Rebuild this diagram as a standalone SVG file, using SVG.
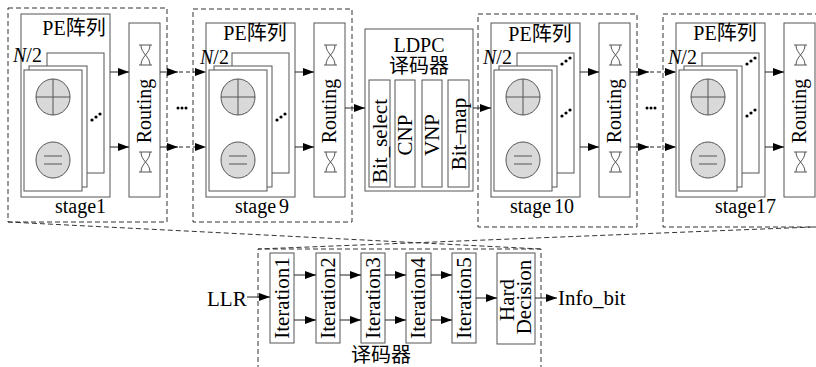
<svg xmlns="http://www.w3.org/2000/svg" width="816" height="367" viewBox="0 0 816 367">
<style>
.t{font-family:"Liberation Serif","Noto Sans CJK SC",serif;font-size:20px;fill:#000}
.tb{font-family:"Liberation Serif","Noto Sans CJK SC",serif;font-size:21px;fill:#000}
.dash{fill:none;stroke:#333;stroke-width:1;stroke-dasharray:5,3}
.box{fill:#fff;stroke:#555;stroke-width:1}
.card{fill:#fff;stroke:#555;stroke-width:1}
.pe{fill:#d9d9d9;stroke:#555;stroke-width:1}
.ln{fill:none;stroke:#555;stroke-width:1}
.sym{fill:none;stroke:#555;stroke-width:1}
.arr{fill:none;stroke:#222;stroke-width:1;marker-end:url(#ah)}
.arrd{fill:none;stroke:#222;stroke-width:1;stroke-dasharray:4,3;marker-end:url(#ah)}
.dot{fill:#000}
</style>
<defs>
<marker id="ah" markerWidth="11" markerHeight="8" refX="11" refY="4" orient="auto" markerUnits="userSpaceOnUse"><path d="M0,0 L11,4 L0,8 z" fill="#000"/></marker>
</defs>
<rect x="0" y="0" width="816" height="367" fill="#fff"/>

<g id="zoomlines">
<path class="dash" d="M8,222 L541,249"/>
<path class="dash" d="M813,227 L258,249"/>
</g>

<g id="stage1">
<rect class="dash" x="8" y="8" width="159" height="214"/>
<rect class="box" x="21" y="14" width="89" height="183"/>
<text class="t" x="74" y="35" text-anchor="middle">PE阵列</text>
<text class="t" x="13" y="62"><tspan font-style="italic">N</tspan>/2</text>
<rect class="card" x="47" y="53" width="57" height="120"/>
<rect class="card" x="29" y="66" width="58" height="121"/>
<rect class="card" x="24" y="70" width="58" height="121"/>
<ellipse class="pe" cx="53" cy="97" rx="17" ry="18"/>
<path class="ln" d="M36,97 H70 M53,79 V115"/>
<ellipse class="pe" cx="53" cy="160" rx="17" ry="18"/>
<path class="ln" d="M44,156 H62 M44,164 H62"/>
<circle class="dot" cx="92" cy="120" r="1.6"/><circle class="dot" cx="96" cy="117" r="1.6"/><circle class="dot" cx="100" cy="114" r="1.6"/>
<rect class="box" x="129" y="23" width="31" height="174"/>
<text class="t" transform="translate(151,111) rotate(-90)" text-anchor="middle">Routing</text>
<path class="sym" d="M139,45 H152 M139,65 H152 M141,45 C141,54 150,56 150,65 M150,45 C150,54 141,56 141,65"/>
<path class="sym" d="M139,152 H152 M139,172 H152 M141,152 C141,161 150,163 150,172 M150,152 C150,161 141,163 141,172"/>
<text class="t" x="55" y="213">stage1</text>
</g>

<g id="stage9" transform="translate(185,0)">
<rect class="dash" x="8" y="9" width="159" height="213"/>
<rect class="box" x="21" y="23" width="89" height="174"/>
<text class="t" x="70" y="40" text-anchor="middle">PE阵列</text>
<text class="t" x="15" y="64"><tspan font-style="italic">N</tspan>/2</text>
<rect class="card" x="47" y="53" width="57" height="120"/>
<rect class="card" x="29" y="66" width="58" height="121"/>
<rect class="card" x="24" y="70" width="58" height="121"/>
<ellipse class="pe" cx="53" cy="97" rx="17" ry="18"/>
<path class="ln" d="M36,97 H70 M53,79 V115"/>
<ellipse class="pe" cx="53" cy="160" rx="17" ry="18"/>
<path class="ln" d="M44,156 H62 M44,164 H62"/>
<circle class="dot" cx="92" cy="120" r="1.6"/><circle class="dot" cx="96" cy="117" r="1.6"/><circle class="dot" cx="100" cy="114" r="1.6"/>
<rect class="box" x="129" y="23" width="31" height="174"/>
<text class="t" transform="translate(151,111) rotate(-90)" text-anchor="middle">Routing</text>
<path class="sym" d="M139,45 H152 M139,65 H152 M141,45 C141,54 150,56 150,65 M150,45 C150,54 141,56 141,65"/>
<path class="sym" d="M139,152 H152 M139,172 H152 M141,152 C141,161 150,163 150,172 M150,152 C150,161 141,163 141,172"/>
<text class="t" x="50" y="213">stage<tspan dx="3">9</tspan></text>
</g>

<g id="ldpc">
<rect class="box" x="365" y="29" width="108" height="162"/>
<text class="t" x="419" y="52" text-anchor="middle">LDPC</text>
<text class="t" x="419" y="73" text-anchor="middle">译码器</text>
<rect class="box" x="369" y="80" width="21" height="107"/>
<rect class="box" x="395" y="80" width="20" height="107"/>
<rect class="box" x="422" y="80" width="20" height="107"/>
<rect class="box" x="448" y="80" width="21" height="107"/>
<text class="tb" transform="translate(387,141) rotate(-90)" text-anchor="middle">Bit_select</text>
<text class="tb" transform="translate(412,135) rotate(-90)" text-anchor="middle">CNP</text>
<text class="tb" transform="translate(439,135) rotate(-90)" text-anchor="middle">VNP</text>
<text class="tb" transform="translate(466,134) rotate(-90)" text-anchor="middle">Bit–map</text>
</g>

<g id="stage10" transform="translate(470,0)">
<rect class="dash" x="8" y="14" width="159" height="213"/>
<rect class="box" x="21" y="23" width="89" height="174"/>
<text class="t" x="70" y="41" text-anchor="middle">PE阵列</text>
<text class="t" x="13" y="64"><tspan font-style="italic">N</tspan>/2</text>
<rect class="card" x="47" y="53" width="57" height="120"/>
<rect class="card" x="29" y="66" width="58" height="121"/>
<rect class="card" x="24" y="70" width="58" height="121"/>
<ellipse class="pe" cx="53" cy="97" rx="17" ry="18"/>
<path class="ln" d="M36,97 H70 M53,79 V115"/>
<ellipse class="pe" cx="53" cy="160" rx="17" ry="18"/>
<path class="ln" d="M44,156 H62 M44,164 H62"/>
<circle class="dot" cx="92" cy="64" r="1.6"/><circle class="dot" cx="96" cy="61" r="1.6"/><circle class="dot" cx="100" cy="58" r="1.6"/>
<circle class="dot" cx="92" cy="116" r="1.6"/><circle class="dot" cx="96" cy="113" r="1.6"/><circle class="dot" cx="100" cy="110" r="1.6"/>
<rect class="box" x="129" y="23" width="31" height="174"/>
<text class="t" transform="translate(151,111) rotate(-90)" text-anchor="middle">Routing</text>
<path class="sym" d="M139,45 H152 M139,65 H152 M141,45 C141,54 150,56 150,65 M150,45 C150,54 141,56 141,65"/>
<path class="sym" d="M139,152 H152 M139,172 H152 M141,152 C141,161 150,163 150,172 M150,152 C150,161 141,163 141,172"/>
<text class="t" x="40" y="213">stage<tspan dx="3">10</tspan></text>
</g>

<g id="stage17" transform="translate(655,0)">
<rect class="dash" x="8" y="14" width="159" height="213"/>
<rect class="box" x="21" y="23" width="89" height="174"/>
<text class="t" x="70" y="40" text-anchor="middle">PE阵列</text>
<text class="t" x="13" y="64"><tspan font-style="italic">N</tspan>/2</text>
<rect class="card" x="47" y="53" width="57" height="120"/>
<rect class="card" x="29" y="66" width="58" height="121"/>
<rect class="card" x="24" y="70" width="58" height="121"/>
<ellipse class="pe" cx="53" cy="97" rx="17" ry="18"/>
<path class="ln" d="M36,97 H70 M53,79 V115"/>
<ellipse class="pe" cx="53" cy="160" rx="17" ry="18"/>
<path class="ln" d="M44,156 H62 M44,164 H62"/>
<circle class="dot" cx="92" cy="64" r="1.6"/><circle class="dot" cx="96" cy="61" r="1.6"/><circle class="dot" cx="100" cy="58" r="1.6"/>
<circle class="dot" cx="92" cy="116" r="1.6"/><circle class="dot" cx="96" cy="113" r="1.6"/><circle class="dot" cx="100" cy="110" r="1.6"/>
<rect class="box" x="129" y="23" width="31" height="174"/>
<text class="t" transform="translate(151,111) rotate(-90)" text-anchor="middle">Routing</text>
<path class="sym" d="M139,45 H152 M139,65 H152 M141,45 C141,54 150,56 150,65 M150,45 C150,54 141,56 141,65"/>
<path class="sym" d="M139,152 H152 M139,172 H152 M141,152 C141,161 150,163 150,172 M150,152 C150,161 141,163 141,172"/>
<text class="t" x="60" y="213">stage17</text>
</g>

<g id="decoder">
<path class="dash" d="M258,370 V249 H541 V370"/>
<text class="tb" x="207" y="306">LLR</text>
<rect class="box" x="270" y="253" width="24" height="90"/>
<rect class="box" x="316" y="253" width="24" height="90"/>
<rect class="box" x="361" y="253" width="24" height="90"/>
<rect class="box" x="406" y="253" width="25" height="90"/>
<rect class="box" x="452" y="253" width="24" height="90"/>
<rect class="box" x="497" y="253" width="38" height="91"/>
<text class="tb" transform="translate(289,298) rotate(-90)" text-anchor="middle">Iteration1</text>
<text class="tb" transform="translate(335,298) rotate(-90)" text-anchor="middle">Iteration2</text>
<text class="tb" transform="translate(380,298) rotate(-90)" text-anchor="middle">Iteration3</text>
<text class="tb" transform="translate(425,298) rotate(-90)" text-anchor="middle">Iteration4</text>
<text class="tb" transform="translate(471,298) rotate(-90)" text-anchor="middle">Iteration5</text>
<text class="tb" transform="translate(514,300) rotate(-90)" text-anchor="middle">Hard</text>
<text class="tb" transform="translate(531,297) rotate(-90)" text-anchor="middle">Decision</text>
<text class="tb" x="558" y="305">Info_bit</text>
<text class="t" x="381" y="362" text-anchor="middle">译码器</text>
</g>

<g id="connectors">
<path class="arr" d="M110,72 H129"/><path class="arr" d="M110,147 H129"/>
<path class="arr" d="M160,72 H178"/><path class="arr" d="M160,147 H178"/>
<path class="arrd" d="M179,72 H206"/><path class="arrd" d="M179,147 H206"/>
<circle class="dot" cx="178" cy="108" r="1.5"/><circle class="dot" cx="182" cy="108" r="1.5"/><circle class="dot" cx="186" cy="108" r="1.5"/>
<path class="arr" d="M295,72 H314"/><path class="arr" d="M295,147 H314"/>
<path class="arr" d="M345,108 H365"/>
<path class="arr" d="M473,108 H491"/>
<path class="arr" d="M580,72 H599"/><path class="arr" d="M580,147 H599"/>
<path class="arr" d="M630,72 H649"/><path class="arr" d="M630,147 H649"/>
<path class="arrd" d="M650,72 H676"/><path class="arrd" d="M650,147 H676"/>
<circle class="dot" cx="647" cy="108" r="1.5"/><circle class="dot" cx="651" cy="108" r="1.5"/><circle class="dot" cx="655" cy="108" r="1.5"/>
<path class="arr" d="M765,72 H784"/><path class="arr" d="M765,147 H784"/>
<path class="arr" d="M247,297 H270"/>
<path class="arr" d="M294,275 H316"/><path class="arr" d="M294,320 H316"/>
<path class="arr" d="M340,275 H361"/><path class="arr" d="M340,320 H361"/>
<path class="arr" d="M385,275 H406"/><path class="arr" d="M385,320 H406"/>
<path class="arr" d="M431,275 H452"/><path class="arr" d="M431,320 H452"/>
<path class="arr" d="M476,298 H497"/>
<path class="arr" d="M535,298 H557"/>
</g>
</svg>
